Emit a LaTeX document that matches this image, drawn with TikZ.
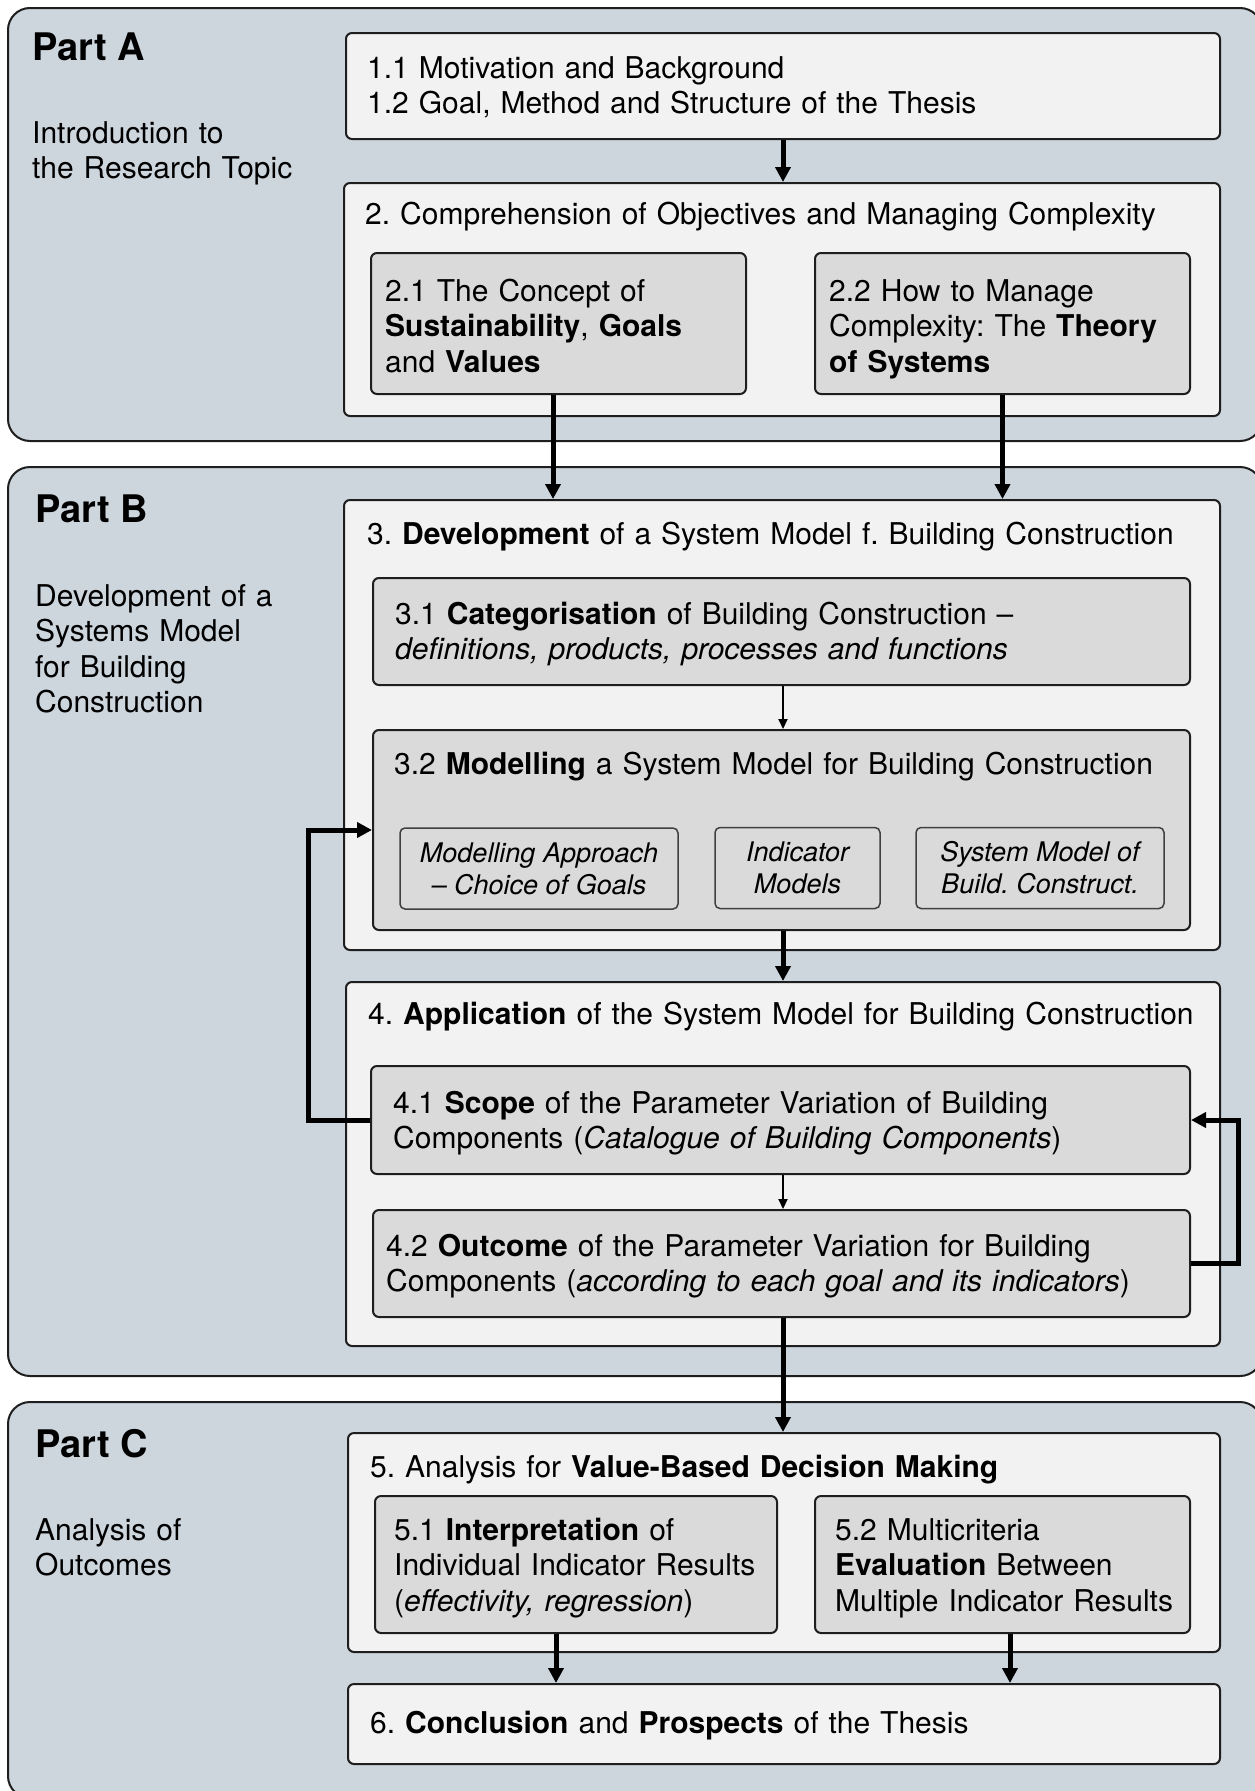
\documentclass[tikz,border=0pt]{standalone}
\usepackage{fontspec}
\setmainfont{TeX Gyre Heros}
\usetikzlibrary{arrows.meta}
\definecolor{panelfill}{HTML}{CDD5DD}
\definecolor{lightfill}{HTML}{F2F2F2}
\definecolor{midfill}{HTML}{DADADA}
\definecolor{edge}{HTML}{1E1E1E}
\frenchspacing
\begin{document}
\frenchspacing
\begin{tikzpicture}[x=1pt,y=-1pt,
  panel/.style={draw=edge, line width=2pt, fill=panelfill, rounded corners=22pt},
  lightbox/.style={draw=edge, line width=2pt, fill=lightfill, rounded corners=6pt, inner sep=0pt},
  midbox/.style={draw=edge, line width=2pt, fill=midfill, rounded corners=6pt, inner sep=0pt},
  subbox/.style={draw=edge!85, line width=1.5pt, fill=midfill, rounded corners=5pt, inner sep=0pt, align=center, font=\fontsize{27}{32}\selectfont\itshape\frenchspacing},
  txt/.style={anchor=base west, inner sep=0pt, text width=900pt, align=left, font=\fontsize{30}{35.5}\selectfont\frenchspacing},
  parttitle/.style={anchor=base west, inner sep=0pt, font=\fontsize{38}{44}\selectfont\bfseries},
  thickarrow/.style={line width=5pt, draw=black, -{Triangle[length=15pt,width=15pt]}},
  thinarrow/.style={line width=2pt, draw=black, -{Triangle[length=10pt,width=9pt]}}
]
\clip (0,0) rectangle (1255,1791);
\fill[white] (0,0) rectangle (1255,1791);

% panels
\path[panel] (8,8) rectangle (1262,441);
\path[panel] (8,467) rectangle (1262,1376);
\path[panel] (8,1402) rectangle (1262,1798);

% part labels
\node[parttitle] (pa) at (32,60) {Part A};
\node[txt] (pad) at (32,143) {Introduction to\\the Research Topic};
\node[parttitle] (pb) at (35,522) {Part B};
\node[txt] (pbd) at (35,606) {Development of a\\Systems Model\\for Building\\Construction};
\node[parttitle] (pc) at (35,1457) {Part C};
\node[txt] (pcd) at (35,1540) {Analysis of\\Outcomes};

% boxes
\node[lightbox, minimum width=874pt, minimum height=106pt] (b1) at (783,86) {};
\node[lightbox, minimum width=876pt, minimum height=233pt] (b2) at (782,299.5) {};
\node[midbox, minimum width=375pt, minimum height=141pt] (b21) at (558.5,323.5) {};
\node[midbox, minimum width=375pt, minimum height=141pt] (b22) at (1002.5,323.5) {};

\node[lightbox, minimum width=876pt, minimum height=450pt] (b3) at (782,725) {};
\node[midbox, minimum width=817pt, minimum height=107pt] (b31) at (781.5,631.5) {};
\node[midbox, minimum width=817pt, minimum height=200pt] (b32) at (781.5,830) {};
\node[subbox, minimum width=278pt, minimum height=81pt] (s1) at (539,868.5) {Modelling Approach\\– Choice of Goals};
\node[subbox, minimum width=165pt, minimum height=81pt] (s2) at (797.5,868) {Indicator\\Models};
\node[subbox, minimum width=248pt, minimum height=81pt] (s3) at (1040,868) {System Model of\\Build. Construct.};

\node[lightbox, minimum width=874pt, minimum height=364pt] (b4) at (783,1164) {};
\node[midbox, minimum width=819pt, minimum height=108pt] (b41) at (780.5,1120) {};
\node[midbox, minimum width=817pt, minimum height=107pt] (b42) at (781.5,1263.5) {};

\node[lightbox, minimum width=872pt, minimum height=219pt] (b5) at (784,1542.5) {};
\node[midbox, minimum width=402pt, minimum height=137pt] (b51) at (576,1564.5) {};
\node[midbox, minimum width=375pt, minimum height=137pt] (b52) at (1002.5,1564.5) {};
\node[lightbox, minimum width=872pt, minimum height=80pt] (b6) at (784,1724) {};

% texts
\node[txt] (t1) at (367,78) {1.1 Motivation and Background\\1.2 Goal, Method and Structure of the Thesis};
\node[txt] (t2) at (365,224) {2. Comprehension of Objectives and Managing Complexity};
\node[txt] (t21) at (385,301) {2.1 The Concept of\\\textbf{Sustainability}, \textbf{Goals}\\and \textbf{Values}};
\node[txt] (t22) at (829,301) {2.2 How to Manage\\Complexity: The \textbf{Theory}\\\textbf{of Systems}};
\node[txt] (t3) at (367,544) {3. \textbf{Development} of a System Model f. Building Construction};
\node[txt] (t31) at (395,624) {3.1 \textbf{Categorisation} of Building Construction –\\\textit{definitions, products, processes and functions}};
\node[txt] (t32) at (394,774) {3.2 \textbf{Modelling} a System Model for Building Construction};
\node[txt] (t4) at (368,1024) {4. \textbf{Application} of the System Model for Building Construction};
\node[txt] (t41) at (393,1113) {4.1 \textbf{Scope} of the Parameter Variation of Building\\Components (\textit{Catalogue of Building Components})};
\node[txt] (t42) at (386,1256) {4.2 \textbf{Outcome} of the Parameter Variation for Building\\Components (\textit{according to each goal and its indicators})};
\node[txt] (t5) at (370,1477) {5. Analysis for \textbf{Value-Based Decision Making}};
\node[txt] (t51) at (394,1540) {5.1 \textbf{Interpretation} of\\Individual Indicator Results\\(\textit{effectivity, regression})};
\node[txt] (t52) at (835,1540) {5.2 Multicriteria\\\textbf{Evaluation} Between\\Multiple Indicator Results};
\node[txt] (t6) at (370,1733) {6. \textbf{Conclusion} and \textbf{Prospects} of the Thesis};

% connectors
\coordinate (x21) at (553,0);
\coordinate (x51) at (556,0);
\coordinate (x52) at (1010,0);
\coordinate (xm) at (783,0);
\draw[thickarrow] (b1.south -| xm) -- (b2.north -| xm);
\draw[thickarrow] (b21.south -| x21) -- (b3.north -| x21);
\draw[thickarrow] (b22.south) -- (b3.north -| b22.south);
\draw[thinarrow] (b31.south -| xm) -- (b32.north -| xm);
\draw[thickarrow] (b32.south -| xm) -- (b4.north -| xm);
\draw[thinarrow] (b41.south -| xm) -- (b42.north -| xm);
\draw[thickarrow] (b42.south -| xm) -- (b5.north -| xm);
\draw[thickarrow] (b51.south -| x51) -- (b6.north -| x51);
\draw[thickarrow] (b52.south -| x52) -- (b6.north -| x52);
\draw[thickarrow] (b41.west) -- ++(-62,0) |- (b32.west);
\draw[thickarrow] (b42.east) -- ++(47,0) |- (b41.east);
\end{tikzpicture}
\end{document}
